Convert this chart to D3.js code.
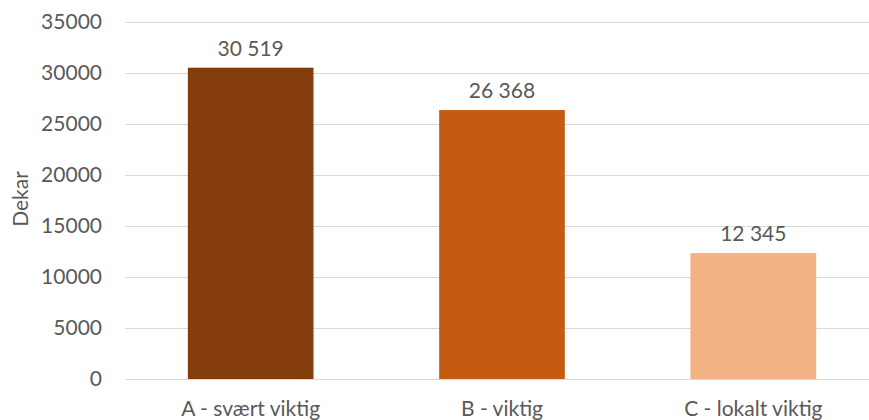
<!DOCTYPE html>
<html><head><meta charset="utf-8">
<script src="https://cdn.jsdelivr.net/npm/d3@7"></script>
<style>body{margin:0;background:#fff}svg{display:block}text{font-family:Lato,"Open Sans",sans-serif;fill:#595959}</style>
</head><body>
<svg id="c" width="869" height="420"></svg>
<script>
const categories = ["A - svært viktig", "B - viktig", "C - lokalt viktig"];
const values = [30519, 26368, 12345];
const colors = ["#843C0C", "#C55A11", "#F4B183"];
const yTicks = [0, 5000, 10000, 15000, 20000, 25000, 30000, 35000];
const yTitle = "Dekar";

const svg = d3.select("#c");
const mLeft = 125, mRight = 879, mTop = 22, mBottom = 379;
const x = d3.scaleBand().domain(categories).range([mLeft, mRight]).paddingInner(0.5).paddingOuter(0.25);
const y = d3.scaleLinear().domain([0, 35000]).range([mBottom, mTop]);

const grid = svg.append("g").attr("transform", `translate(${mLeft},0)`)
  .call(d3.axisLeft(y).tickValues(yTicks).tickSize(-(mRight - mLeft)).tickPadding(23).tickFormat(d3.format("d")));
grid.select(".domain").remove();
grid.selectAll("line").attr("stroke", "#d9d9d9").attr("stroke-width", 1);
grid.selectAll("text").attr("font-size", 21).style("font-family", "Lato,sans-serif").attr("fill", "#595959");

svg.append("g").selectAll("rect").data(values).join("rect")
  .attr("x", (d, i) => x(categories[i]))
  .attr("width", x.bandwidth())
  .attr("y", d => y(d))
  .attr("height", d => y(0) - y(d))
  .attr("fill", (d, i) => colors[i]);

const fmt = v => d3.format(",")(v).replace(/,/g, " ");
svg.append("g").selectAll("text").data(values).join("text")
  .attr("x", (d, i) => x(categories[i]) + x.bandwidth() / 2)
  .attr("y", d => y(d) - 12)
  .attr("text-anchor", "middle").attr("font-size", 21)
  .text(d => fmt(d));

const xa = svg.append("g").attr("transform", `translate(0,${mBottom})`)
  .call(d3.axisBottom(x).tickSize(0).tickPadding(22));
xa.select(".domain").remove();
xa.selectAll("text").attr("font-size", 21).style("font-family", "Lato,sans-serif").attr("fill", "#595959");

svg.append("text").attr("transform", `translate(28,199) rotate(-90)`)
  .attr("text-anchor", "middle").attr("font-size", 21).text(yTitle);
</script>
</body></html>
